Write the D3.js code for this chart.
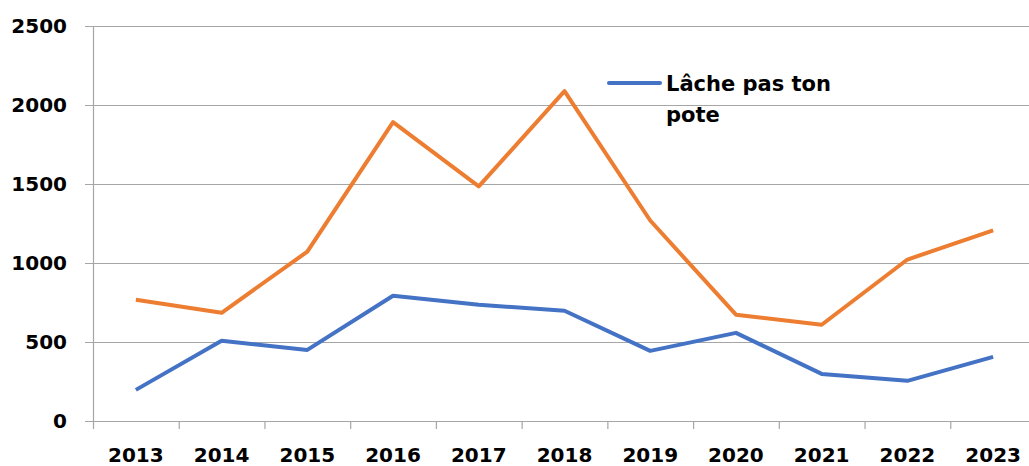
<!DOCTYPE html>
<html>
<head>
<meta charset="utf-8">
<script src="https://cdn.jsdelivr.net/npm/d3@7"></script>
<style>
  body { margin: 0; background: #fff; }
  svg { display: block; font-family: "DejaVu Sans", sans-serif; font-weight: bold; }
</style>
</head>
<body>
<svg width="1029" height="466"></svg>
<script>
const years = ['2013', '2014', '2015', '2016', '2017', '2018', '2019', '2020', '2021', '2022', '2023'];
const blueValues = [197, 508, 450, 793, 736, 698, 444, 558, 298, 254, 406];
const orangeValues = [768, 685, 1072, 1891, 1485, 2088, 1269, 673, 609, 1022, 1206];
const yTicks = [0, 500, 1000, 1500, 2000, 2500];
const legendLabel = ['Lâche pas ton', 'pote'];

const svg = d3.select('svg');

// zone du graphique (elle déborde un peu à droite, comme dans l'original)
const plotLeft = 93, plotRight = 1036, plotTop = 26, plotBottom = 421;

const x = d3.scaleBand()
  .domain(years)
  .range([plotLeft, plotRight]);

const y = d3.scaleLinear()
  .domain([0, 2500])
  .range([plotBottom, plotTop]);

// grille horizontale
svg.append('g')
  .selectAll('line')
  .data(yTicks)
  .join('line')
    .attr('x1', plotLeft - 8)
    .attr('x2', plotRight)
    .attr('y1', d => y(d) + 0.5)
    .attr('y2', d => y(d) + 0.5)
    .attr('stroke', '#a6a6a6')
    .attr('stroke-width', 1.2);

// axe vertical
svg.append('line')
  .attr('x1', plotLeft + 0.5).attr('x2', plotLeft + 0.5)
  .attr('y1', plotTop).attr('y2', plotBottom + 8)
  .attr('stroke', '#a6a6a6')
  .attr('stroke-width', 1.2);

// libellés y
svg.append('g')
  .selectAll('text')
  .data(yTicks)
  .join('text')
    .attr('x', 67)
    .attr('y', d => y(d) + 7)
    .attr('text-anchor', 'end')
    .attr('font-size', 20)
    .text(d => d);

// axe x : graduations entre les catégories
svg.append('g')
  .selectAll('line')
  .data(years.slice(1))
  .join('line')
    .attr('x1', d => x(d) + 0.5)
    .attr('x2', d => x(d) + 0.5)
    .attr('y1', plotBottom)
    .attr('y2', plotBottom + 8)
    .attr('stroke', '#a6a6a6')
    .attr('stroke-width', 1.2);

svg.append('g')
  .selectAll('text')
  .data(years)
  .join('text')
    .attr('x', d => x(d) + x.bandwidth() / 2)
    .attr('y', 462)
    .attr('text-anchor', 'middle')
    .attr('font-size', 20)
    .text(d => d);

// les courbes
const line = d3.line()
  .x((d, i) => x(years[i]) + x.bandwidth() / 2)
  .y(d => y(d));

svg.append('path')
  .datum(orangeValues)
  .attr('d', line)
  .attr('fill', 'none')
  .attr('stroke', '#ed7d31')
  .attr('stroke-width', 4)
  .attr('stroke-linejoin', 'round');

svg.append('path')
  .datum(blueValues)
  .attr('d', line)
  .attr('fill', 'none')
  .attr('stroke', '#4472c4')
  .attr('stroke-width', 4)
  .attr('stroke-linejoin', 'round');

// légende
svg.append('line')
  .attr('x1', 609).attr('x2', 660)
  .attr('y1', 83).attr('y2', 83)
  .attr('stroke', '#4472c4')
  .attr('stroke-width', 4)
  .attr('stroke-linecap', 'round');

svg.append('text')
  .attr('font-size', 21)
  .selectAll('tspan')
  .data(legendLabel)
  .join('tspan')
    .attr('x', 666)
    .attr('y', (d, i) => 91 + i * 31)
    .text(d => d);
</script>
</body>
</html>
